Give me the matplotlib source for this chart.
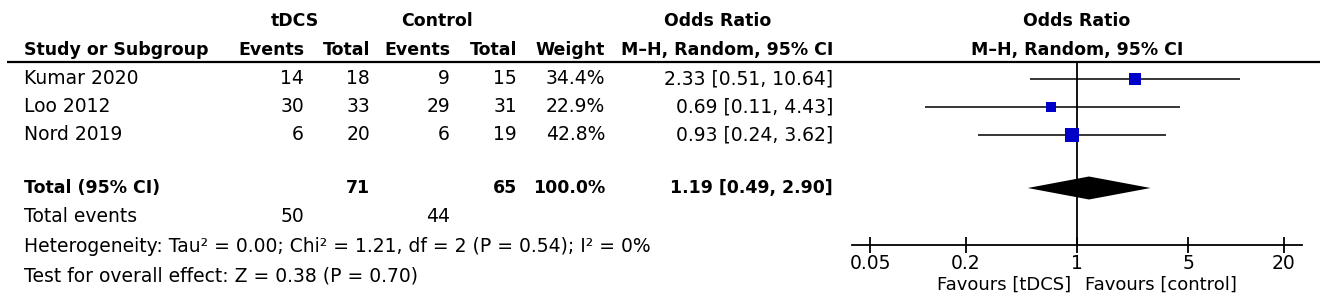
import matplotlib
matplotlib.use("Agg")
import matplotlib.pyplot as plt

# study data
studies = ["Kumar 2020", "Loo 2012", "Nord 2019"]
tdcs_events = [14, 30, 6]
tdcs_total = [18, 33, 20]
ctrl_events = [9, 29, 6]
ctrl_total = [15, 31, 19]
weights = [34.4, 22.9, 42.8]
odds = [2.33, 0.69, 0.93]
ci_low = [0.51, 0.11, 0.24]
ci_high = [10.64, 4.43, 3.62]
total_weight = 100.0
pooled = [1.19, 0.49, 2.90]   # estimate, low, high
xticks = [0.05, 0.2, 1, 5, 20]
xticklabels = ["0.05", "0.2", "1", "5", "20"]
heterogeneity = "Heterogeneity: Tau\u00b2 = 0.00; Chi\u00b2 = 1.21, df = 2 (P = 0.54); I\u00b2 = 0%"
overall = "Test for overall effect: Z = 0.38 (P = 0.70)"

plt.rcParams['font.family'] = ['DejaVu Sans']
FS = 13.5    # regular text
FB = 12.5    # bold text
W, H = 1325, 307

fig = plt.figure(figsize=(W / 100, H / 100), dpi=100)
ax = fig.add_axes([0, 0, 1, 1])
ax.set_xlim(0, W)
ax.set_ylim(H, 0)
ax.axis('off')

def txt(x, y, s, ha='right', bold=False, size=None):
	fs = size if size else (FB if bold else FS)
	ax.text(x, y, s, ha=ha, va='center', fontsize=fs,
		fontweight='bold' if bold else 'normal', color='black')

# column right edges (pixels)
c_te, c_tt, c_ce, c_ct, c_w, c_or = 304, 370, 450, 517, 605, 833

# headers
txt(295, 21, "tDCS", 'center', True)
txt(437, 21, "Control", 'center', True)
txt(718, 21, "Odds Ratio", 'center', True)
txt(1077, 21, "Odds Ratio", 'center', True)
txt(24, 50, "Study or Subgroup", 'left', True)
txt(c_te, 50, "Events", bold=True)
txt(c_tt, 50, "Total", bold=True)
txt(c_ce, 50, "Events", bold=True)
txt(c_ct, 50, "Total", bold=True)
txt(c_w, 50, "Weight", bold=True)
txt(c_or, 50, "M\u2013H, Random, 95% CI", bold=True)
txt(1077, 50, "M\u2013H, Random, 95% CI", 'center', True)
ax.plot([7, 1320], [62, 62], color='black', lw=1.6, solid_capstyle='butt')

rows = [79, 107, 135]
for i, y in enumerate(rows):
	txt(24, y, studies[i], 'left')
	txt(c_te, y, str(tdcs_events[i]))
	txt(c_tt, y, str(tdcs_total[i]))
	txt(c_ce, y, str(ctrl_events[i]))
	txt(c_ct, y, str(ctrl_total[i]))
	txt(c_w, y, f"{weights[i]:.1f}%")
	txt(c_or, y, f"{odds[i]:.2f} [{ci_low[i]:.2f}, {ci_high[i]:.2f}]")

ytot = 188
txt(24, ytot, "Total (95% CI)", 'left', True)
txt(c_tt, ytot, str(sum(tdcs_total)), bold=True)
txt(c_ct, ytot, str(sum(ctrl_total)), bold=True)
txt(c_w, ytot, f"{total_weight:.1f}%", bold=True)
txt(c_or, ytot, f"{pooled[0]:.2f} [{pooled[1]:.2f}, {pooled[2]:.2f}]", bold=True)

txt(24, 216, "Total events", 'left')
txt(c_te, 216, str(sum(tdcs_events)))
txt(c_ce, 216, str(sum(ctrl_events)))
txt(24, 247, heterogeneity, 'left')
txt(24, 276, overall, 'left')

txt(1071, 285, "Favours [tDCS]", size=13)
txt(1085, 285, "Favours [control]", 'left', size=13)

# forest plot panel
x0, x1, y0, y1 = 852, 1302, 62, 245
fa = fig.add_axes([x0 / W, (H - y1) / H, (x1 - x0) / W, (y1 - y0) / H])
fa.patch.set_alpha(0)
fa.set_xscale('log')
fa.set_xlim(1 / 26, 26)
fa.set_ylim(y1, y0)
for s in ['top', 'left', 'right']:
	fa.spines[s].set_visible(False)
fa.spines['bottom'].set_linewidth(1.3)
fa.set_yticks([])
fa.set_xticks(xticks)
fa.set_xticklabels(xticklabels, fontsize=FS)
fa.minorticks_off()
fa.tick_params(axis='x', direction='inout', length=11, width=1.3, pad=1)

fa.axvline(1, color='black', lw=1.3)
fa.hlines(rows, ci_low, ci_high, color='black', lw=1.1)
sizes = [(2.05 * w ** 0.5 * 0.72) ** 2 for w in weights]
fa.scatter(odds, rows, marker='s', s=sizes, color='#0000c8', zorder=3, linewidths=0, clip_on=False)
fa.fill([pooled[1], pooled[0], pooled[2], pooled[0]],
	[ytot, ytot - 11.5, ytot, ytot + 11.5], color='black', lw=0, zorder=3)

fig.savefig("out.png", dpi=100)
